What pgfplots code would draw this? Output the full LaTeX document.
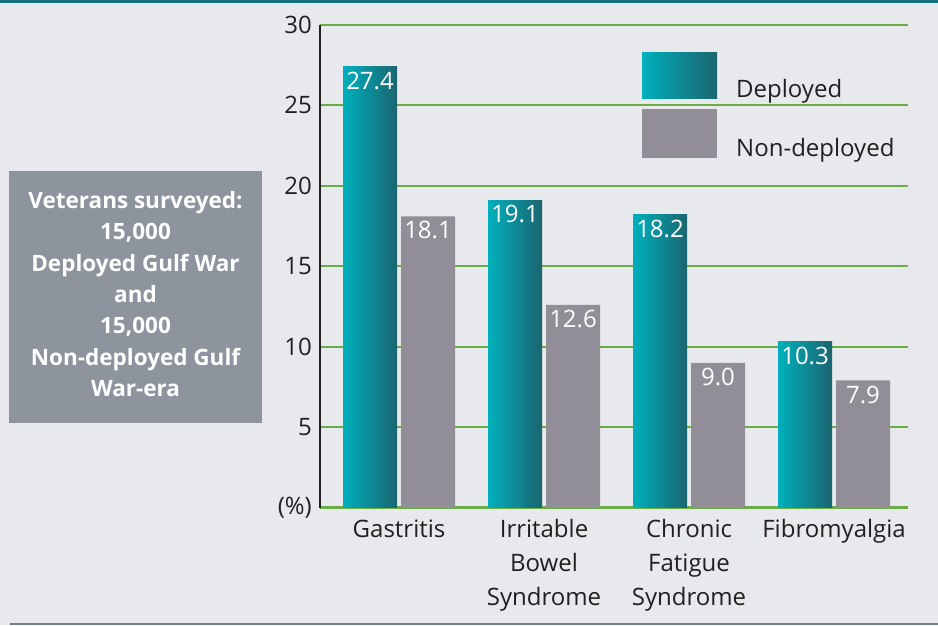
\documentclass[border=0pt]{standalone}
\usepackage{pgfplots}
\pgfplotsset{compat=1.18}
\usepackage{fontspec}
\setmainfont{Open Sans}
\definecolor{bg}{HTML}{E8E9ED}
\definecolor{tealL}{HTML}{00B0BC}
\definecolor{tealM}{HTML}{1A737E}
\definecolor{tealD}{HTML}{1B6570}
\definecolor{barGray}{HTML}{928E97}
\definecolor{gridGreen}{HTML}{6AAD46}
\definecolor{topBand}{HTML}{14707A}
\definecolor{botBand}{HTML}{6E7F89}
\definecolor{boxGray}{HTML}{8D949D}
\definecolor{txt}{HTML}{231F20}
\pgfplotsset{
  depbar/.style={ybar, bar width=0.372, bar shift=-0.2, draw=none, left color=tealL, middle color=tealM, right color=tealD,
    every node near coord/.append style={xshift=-29pt}},
  ndepbar/.style={ybar, bar width=0.372, bar shift=0.2, draw=none, fill=barGray,
    every node near coord/.append style={xshift=29pt}},
}
\begin{document}
\begin{tikzpicture}[x=1pt,y=1pt]
\useasboundingbox (0,0) rectangle (938,625);
\fill[bg] (0,0) rectangle (938,625);
\fill[topBand] (0,622) rectangle (938,625);
\fill[botBand] (10,0) rectangle (938,2.5);
\fill[boxGray] (9,202) rectangle (262,454);
\node[text=white, align=center, inner sep=0pt, font=\bfseries\fontsize{22.5}{31.3}\selectfont] at (135.5,331) {Veterans surveyed:\\15,000\\Deployed Gulf War\\and\\15,000\\Non-deployed Gulf\\War-era};
\begin{axis}[
  at={(320pt,117.5pt)}, anchor=south west, scale only axis,
  width=588pt, height=482.5pt,
  xmin=-0.545, xmax=3.51, ymin=0, ymax=30,
  xtick={0,1,2,3},
  xticklabels={Gastritis,{Irritable\\Bowel\\Syndrome},{Chronic\\Fatigue\\Syndrome},Fibromyalgia},
  ytick={0,5,10,15,20,25,30},
  yticklabels={(\%),5,10,15,20,25,30},
  major tick length=0pt,
  ymajorgrids, grid style={gridGreen, line width=2pt},
  axis x line*=bottom, axis y line*=left,
  x axis line style={gridGreen, line width=2.5pt, -},
  y axis line style={txt, line width=2pt, -},
  tick label style={font=\fontsize{24}{34}\selectfont, text=txt},
  xticklabel style={align=center, anchor=north, inner sep=0pt, yshift=-12pt},
  yticklabel style={anchor=east, inner sep=0pt, xshift=-8pt},
  /pgf/number format/assume math mode=true,
  clip=false,
  nodes near coords={\pgfmathprintnumber[fixed,fixed zerofill,precision=1]{\pgfplotspointmeta}},
  every node near coord/.append style={anchor=north, text=white, inner sep=0pt, yshift=-5pt, font=\fontsize{24}{28}\selectfont},
]
\addplot[depbar] coordinates {(0,27.4)};
\addplot[depbar] coordinates {(1,19.1)};
\addplot[depbar] coordinates {(2,18.2)};
\addplot[depbar] coordinates {(3,10.3)};
\addplot[ndepbar] coordinates {(0,18.1) (1,12.6) (2,9.0) (3,7.9)};
\end{axis}
\shade[left color=tealL, middle color=tealM, right color=tealD] (642,526) rectangle (717,572.7);
\fill[barGray] (642,467.3) rectangle (717,516);
\node[anchor=base west, inner sep=0pt, text=txt, font=\fontsize{24}{28}\selectfont] at (736,527.7) {Deployed};
\node[anchor=base west, inner sep=0pt, text=txt, font=\fontsize{24}{28}\selectfont] at (736,468) {Non-deployed};
\end{tikzpicture}
\end{document}
